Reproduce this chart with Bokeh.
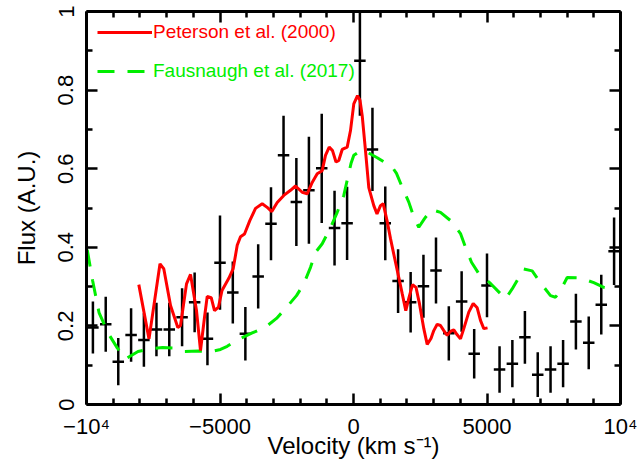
from bokeh.plotting import figure
from bokeh.models import Range1d, LinearAxis, FixedTicker, Legend, LegendItem, ColumnDataSource
from bokeh.embed import file_html
from bokeh.resources import INLINE

# ---- binned data (velocity bins, flux, 1-sigma error) ----
velocity = [-9760, -9280, -8810, -8330, -7850, -7380, -6900, -6420, -5950, -5470,
            -5000, -4520, -4050, -3570, -3090, -2620, -2140, -1670, -1190, -710,
            -240, 240, 710, 1190, 1670, 2140, 2620, 3090, 3570, 4050,
            4520, 5000, 5470, 5950, 6420, 6900, 7380, 7850, 8330, 8810,
            9280, 9760]
flux = [0.196, 0.204, 0.109, 0.177, 0.164, 0.191, 0.191, 0.222, 0.260, 0.167,
        0.361, 0.285, 0.180, 0.326, 0.460, 0.634, 0.515, 0.545, 0.601, 0.449,
        0.461, 0.875, 0.649, 0.461, 0.314, 0.260, 0.301, 0.341, 0.181, 0.262,
        0.129, 0.303, 0.089, 0.104, 0.171, 0.076, 0.089, 0.104, 0.211, 0.157,
        0.254, 0.390]
flux_err = [0.066, 0.070, 0.060, 0.068, 0.068, 0.068, 0.068, 0.074, 0.076, 0.067,
            0.120, 0.079, 0.068, 0.082, 0.093, 0.101, 0.112, 0.136, 0.139, 0.095,
            0.093, 0.140, 0.106, 0.094, 0.081, 0.077, 0.080, 0.084, 0.069, 0.077,
            0.063, 0.081, 0.059, 0.060, 0.067, 0.057, 0.059, 0.060, 0.071, 0.067,
            0.076, 0.086]
bin_half_width = 215

# ---- Peterson et al. (2000) profile ----
pet_v = [-8041, -7659, -7247, -7104, -6853, -6580, -6479, -6254, -6104, -5880,
         -5730, -5580, -5479, -5329, -5206, -5056, -4925, -4670, -4505, -4355,
         -4232, -4082, -3884, -3670, -3419, -3221, -3060, -2857, -2610, -2359,
         -2172, -1921, -1734, -1547, -1359, -1172, -1049, -910, -786, -655,
         -551, -423, -236, -112, 11, 150, 243, 326, 449, 573,
         760, 880, 1011, 1112, 1262, 1386, 1535, 1697, 1824, 1959,
         2078, 2210, 2341, 2472, 2633, 2760, 2902, 3007, 3135, 3258,
         3382, 3509, 3633, 3756, 3876, 4007, 4131, 4318, 4483, 4633,
         4756, 4880, 5020]
pet_f = [0.305, 0.167, 0.358, 0.345, 0.252, 0.196, 0.201, 0.307, 0.331, 0.239,
         0.137, 0.222, 0.275, 0.272, 0.239, 0.248, 0.290, 0.321, 0.346, 0.405,
         0.427, 0.434, 0.468, 0.499, 0.511, 0.501, 0.491, 0.514, 0.532, 0.545,
         0.556, 0.540, 0.536, 0.565, 0.587, 0.595, 0.634, 0.655, 0.646, 0.617,
         0.621, 0.649, 0.655, 0.697, 0.765, 0.786, 0.774, 0.735, 0.646, 0.552,
         0.506, 0.485, 0.506, 0.511, 0.466, 0.422, 0.374, 0.323, 0.282, 0.239,
         0.272, 0.305, 0.298, 0.256, 0.193, 0.153, 0.168, 0.188, 0.204, 0.201,
         0.188, 0.176, 0.186, 0.190, 0.178, 0.167, 0.193, 0.235, 0.257, 0.246,
         0.214, 0.193, 0.195]

# ---- Fausnaugh et al. (2017) profile ----
fau_v = [-9973, -9774, -9531, -9194, -8849, -8539, -8070, -7602, -7153, -6778,
         -6367, -5805, -5318, -4981, -4730, -4382, -3794, -3296, -2884, -2509,
         -2135, -1861, -1610, -1423, -1172, -861, -610, -363, -206, -94,
         11, 262, 513, 888, 1262, 1461, 1610, 1824, 2071, 2258,
         2445, 2659, 2921, 3258, 3670, 4007, 4194, 4419, 4692, 5131,
         5505, 5692, 5943, 6378, 6692, 7003, 7378, 7565, 7752, 8003,
         8501, 8999, 9374, 9625]
fau_f = [0.394, 0.316, 0.234, 0.182, 0.144, 0.116, 0.135, 0.142, 0.145, 0.144,
         0.135, 0.136, 0.135, 0.140, 0.148, 0.163, 0.182, 0.197, 0.219, 0.247,
         0.277, 0.307, 0.349, 0.387, 0.409, 0.450, 0.489, 0.532, 0.580, 0.613,
         0.634, 0.646, 0.642, 0.628, 0.612, 0.603, 0.588, 0.553, 0.515, 0.477,
         0.451, 0.473, 0.496, 0.489, 0.466, 0.435, 0.400, 0.362, 0.333, 0.308,
         0.282, 0.269, 0.294, 0.345, 0.340, 0.310, 0.277, 0.273, 0.290, 0.323,
         0.322, 0.310, 0.298, 0.295]

# ---- axes ----
x_ticks = [-10000, -5000, 0, 5000, 10000]
x_tick_labels = ["\u221210\u2074", "\u22125000", "0", "5000", "10\u2074"]
x_minor = [-9000, -8000, -7000, -6000, -4000, -3000, -2000, -1000,
           1000, 2000, 3000, 4000, 6000, 7000, 8000, 9000]
y_ticks = [0, 0.2, 0.4, 0.6, 0.8, 1.0]
y_tick_labels = ["0", "0.2", "0.4", "0.6", "0.8", "1"]
y_minor = [0.1, 0.3, 0.5, 0.7, 0.9]

FONT = "Liberation Sans"
GREEN = "#00ee00"

p = figure(width=641, height=462, output_backend="svg", toolbar_location=None,
           x_range=Range1d(-10000, 10000), y_range=Range1d(0, 1),
           x_axis_location=None, y_axis_location=None,
           min_border_left=86, min_border_right=21, min_border_top=11,
           min_border_bottom=58, background_fill_color="white",
           border_fill_color="white")
p.grid.visible = False
p.outline_line_color = None

src = ColumnDataSource(dict(
    v=velocity, f=flux,
    lo=[a - b for a, b in zip(flux, flux_err)],
    hi=[a + b for a, b in zip(flux, flux_err)],
    v0=[a - bin_half_width for a in velocity],
    v1=[a + bin_half_width for a in velocity],
))
p.segment(x0="v", y0="lo", x1="v", y1="hi", source=src, line_color="black", line_width=2.5)
p.segment(x0="v0", y0="f", x1="v1", y1="f", source=src, line_color="black", line_width=2.5)

r_fau = p.line(fau_v, fau_f, line_color=GREEN, line_width=3, line_dash="17 13")
r_pet = p.line(pet_v, pet_f, line_color="red", line_width=3)

x_over = {t: l for t, l in zip(x_ticks, x_tick_labels)}
y_over = {t: l for t, l in zip(y_ticks, y_tick_labels)}

xa = LinearAxis()
ya = LinearAxis()
above = LinearAxis()
right = LinearAxis()
p.add_layout(xa, "below")
p.add_layout(ya, "left")
p.add_layout(above, "above")
p.add_layout(right, "right")

for ax in [xa, above]:
    ax.ticker = FixedTicker(ticks=x_ticks, minor_ticks=x_minor)
for ax in [ya, right]:
    ax.ticker = FixedTicker(ticks=y_ticks, minor_ticks=y_minor)

for ax in [xa, above, ya, right]:
    ax.axis_line_width = 3
    ax.axis_line_color = "black"
    ax.major_tick_in = 11
    ax.major_tick_out = 0
    ax.minor_tick_in = 6
    ax.minor_tick_out = 0
    ax.major_tick_line_width = 2.5
    ax.minor_tick_line_width = 2.5
    ax.major_tick_line_color = "black"
    ax.minor_tick_line_color = "black"

for ax in [above, right]:
    ax.major_label_text_font_size = "0px"
    ax.major_label_standoff = 0

xa.major_label_overrides = x_over
xa.major_label_text_font = FONT
xa.major_label_text_font_size = "22px"
xa.major_label_text_color = "black"
xa.major_label_standoff = 9
xa.axis_label = "Velocity (km s\u207b\u00b9)"
xa.axis_label_text_font = FONT
xa.axis_label_text_font_size = "24px"
xa.axis_label_text_font_style = "normal"
xa.axis_label_text_color = "black"
xa.axis_label_standoff = -10

ya.major_label_overrides = y_over
ya.major_label_orientation = "parallel"
ya.major_label_text_font = FONT
ya.major_label_text_font_size = "22px"
ya.major_label_text_color = "black"
ya.major_label_standoff = 13
ya.axis_label = "Flux (A.U.)"
ya.axis_label_text_font = FONT
ya.axis_label_text_font_size = "24px"
ya.axis_label_text_font_style = "normal"
ya.axis_label_text_color = "black"
ya.axis_label_standoff = 16

def make_legend(label, renderer, color, loc):
    return Legend(items=[LegendItem(label=label, renderers=[renderer])],
                  location=loc, padding=0, margin=0, spacing=0,
                  glyph_width=55, glyph_height=22, label_height=22,
                  label_standoff=1, border_line_color=None,
                  background_fill_alpha=0,
                  label_text_font=FONT, label_text_font_size="19px",
                  label_text_color=color)

p.add_layout(make_legend("Peterson et al. (2000)", r_pet, "red", (11, 361)), "center")
p.add_layout(make_legend("Fausnaugh et al. (2017)", r_fau, GREEN, (11, 322)), "center")

open("out.html", "w").write(file_html(p, INLINE))
